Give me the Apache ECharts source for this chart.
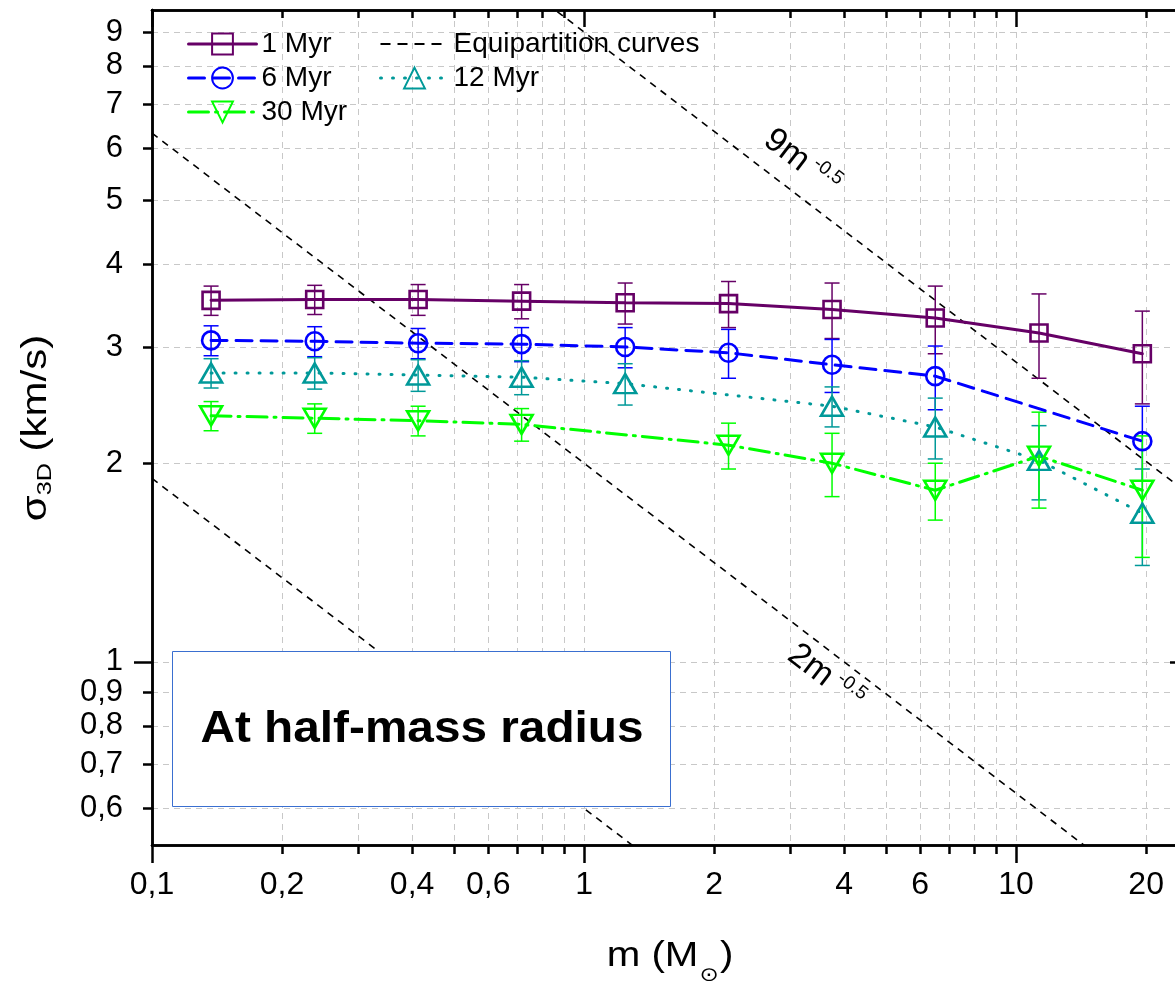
<!DOCTYPE html>
<html>
<head>
<meta charset="utf-8">
<script src="https://cdn.jsdelivr.net/npm/echarts@6/dist/echarts.min.js"></script>
<style>html,body{margin:0;padding:0;background:#fff;}#c{width:1175px;height:981px;}</style>
</head>
<body>
<div id="c"></div>
<script>
// ---- data ----
const masses = [0.137, 0.238, 0.413, 0.717, 1.245, 2.16, 3.75, 6.5, 11.3, 19.6];
const myr1  = [3.53, 3.54, 3.54, 3.52, 3.50, 3.49, 3.42, 3.32, 3.15, 2.93];
const err1  = [0.18, 0.18, 0.19, 0.21, 0.25, 0.28, 0.33, 0.39, 0.46, 0.47];
const myr6  = [3.07, 3.06, 3.04, 3.03, 3.00, 2.94, 2.82, 2.71, null, 2.16];
const err6  = [0.16, 0.16, 0.16, 0.18, 0.21, 0.25, 0.26, 0.30, null, 0.28];
const myr12 = [2.74, 2.74, 2.72, 2.70, 2.64, null, 2.44, 2.27, 2.02, 1.68];
const err12 = [0.14, 0.15, 0.15, 0.16, 0.19, null, 0.17, 0.24, 0.26, 0.28];
const myr30 = [2.36, 2.34, 2.32, 2.29, null, 2.13, 2.00, 1.82, 2.05, 1.82];
const err30 = [0.12, 0.12, 0.12, 0.13, null, 0.17, 0.22, 0.18, 0.34, 0.38];
// equipartition curves sigma = c * m^-0.5 (end points)
const equi9  = [[0.5, 12.73], [25, 1.80]];
const equi2  = [[0.1, 6.325], [25, 0.40]];
const equi06 = [[0.1, 1.897], [25, 0.12]];
// ticks
const xLabels = [0.1, 0.2, 0.4, 0.6, 1, 2, 4, 6, 10, 20];
const xMajor = [0.1, 1, 10];
const xMinor = [0.2, 0.3, 0.4, 0.5, 0.6, 0.7, 0.8, 0.9, 1, 2, 3, 4, 5, 6, 7, 8, 9, 10, 20];
const yLabels = [0.6, 0.7, 0.8, 0.9, 1, 2, 3, 4, 5, 6, 7, 8, 9];
const yMajor = [1];
const yMinor = [0.6, 0.7, 0.8, 0.9, 1, 2, 3, 4, 5, 6, 7, 8, 9];

const FONT = '"Liberation Sans", Arial, sans-serif';
const X_MIN = 0.1, X_MAX = 25, Y_MIN = 0.528, Y_MAX = 9.72;

function pts(vals) {
  const out = [];
  vals.forEach((v, i) => { if (v != null) out.push([masses[i], v]); });
  return out;
}
function errPts(vals, errs) {
  const out = [];
  vals.forEach((v, i) => { if (v != null) out.push([masses[i], v - errs[i], v + errs[i]]); });
  return out;
}
function fmt(v) { return String(+(+v).toPrecision(3)).replace('.', ','); }

function errSeries(name, vals, errs, color) {
  return {
    name: name, type: 'custom', xAxisIndex: 0, yAxisIndex: 0, z: 2,
    data: errPts(vals, errs),
    encode: { x: 0, y: [1, 2] },
    renderItem: function (params, api) {
      const x = api.value(0), lo = api.value(1), hi = api.value(2);
      const a = api.coord([x, lo]), b = api.coord([x, hi]);
      const hw = 7.5;
      const st = { stroke: color, lineWidth: 1.5 };
      return { type: 'group', children: [
        { type: 'line', shape: { x1: a[0], y1: a[1], x2: b[0], y2: b[1] }, style: st },
        { type: 'line', shape: { x1: a[0] - hw, y1: a[1], x2: a[0] + hw, y2: a[1] }, style: st },
        { type: 'line', shape: { x1: b[0] - hw, y1: b[1], x2: b[0] + hw, y2: b[1] }, style: st }
      ]};
    }
  };
}
function dataSeries(name, vals, color, lineType, symbol, size, rot) {
  return {
    name: name, type: 'line', xAxisIndex: 0, yAxisIndex: 0, z: 3,
    data: pts(vals), color: color,
    symbol: symbol, symbolSize: size, symbolRotate: rot || 0, showAllSymbol: true,
    lineStyle: { color: color, width: 3, type: lineType, cap: 'round' },
    itemStyle: { color: 'rgba(255,255,255,0)', borderColor: color, borderWidth: 2.6 },
    emphasis: { disabled: true }, animation: false
  };
}
function equiSeries(data) {
  return {
    name: 'Equipartition curves', type: 'line', xAxisIndex: 0, yAxisIndex: 0, z: 1,
    data: data, symbol: 'none', color: '#000',
    lineStyle: { color: '#000', width: 1.6, type: [7, 6] },
    emphasis: { disabled: true }, animation: false
  };
}

const axisLineStyle = { show: true, onZero: false, lineStyle: { color: '#000', width: 2.5 } };
const gridSplit = { show: true, lineStyle: { color: '#c8c8c8', width: 1, type: [6, 5] } };
function xAx(pos, ticks, len, inside, labels, split) {
  return {
    type: 'log', logBase: 10, min: X_MIN, max: X_MAX, position: pos, gridIndex: 0,
    axisLine: axisLineStyle,
    axisTick: { show: true, customValues: ticks, length: len, inside: inside, lineStyle: { color: '#000', width: 2.5 } },
    axisLabel: labels ? { show: true, customValues: labels, formatter: fmt, fontSize: 32, fontFamily: FONT, color: '#000', margin: 24 } : { show: false },
    splitLine: split ? gridSplit : { show: false },
    minorTick: { show: false }, minorSplitLine: { show: false }
  };
}
function yAx(pos, ticks, len, inside, labels, split) {
  return {
    type: 'log', logBase: 10, min: Y_MIN, max: Y_MAX, position: pos, gridIndex: 0,
    axisLine: axisLineStyle,
    axisTick: { show: true, customValues: ticks, length: len, inside: inside, lineStyle: { color: '#000', width: 2.5 } },
    axisLabel: labels ? { show: true, customValues: labels, formatter: fmt, fontSize: 31, fontFamily: FONT, color: '#000', margin: 29 } : { show: false },
    splitLine: split ? gridSplit : { show: false },
    minorTick: { show: false }, minorSplitLine: { show: false }
  };
}

const legText = { fontSize: 28, fontFamily: FONT, color: '#000' };
const legLine = { width: 3 };
const chart = echarts.init(document.getElementById('c'), null, { renderer: 'canvas' });
const option = {
  animation: false,
  backgroundColor: '#fff',
  grid: { left: 152, top: 10, right: -13, bottom: 136, containLabel: false, outerBoundsMode: 'none' },
  xAxis: [
    xAx('bottom', xMajor, 18, false, xLabels, false),
    xAx('bottom', xMinor, 9, false, null, true),
    xAx('top', xMinor, 8, true, null, false),
    xAx('top', xMajor, 17, true, null, false)
  ],
  yAxis: [
    yAx('left', yMajor, 18, false, yLabels, false),
    yAx('left', yMinor, 9, false, null, true),
    yAx('right', yMinor, 8, true, null, false),
    yAx('right', yMajor, 18, true, null, false)
  ],
  legend: [
    { data: [
        { name: '1 Myr', lineStyle: legLine },
        { name: '6 Myr', lineStyle: legLine },
        { name: '30 Myr', lineStyle: legLine }
      ], orient: 'vertical', left: 182, top: 25, itemWidth: 68, itemHeight: 26, itemGap: 6,
      textStyle: legText, selectedMode: false },
    { data: [
        { name: 'Equipartition curves', lineStyle: { width: 2, type: [10, 7] }, itemStyle: { opacity: 0 } },
        { name: '12 Myr', lineStyle: legLine }
      ], orient: 'vertical', left: 374, top: 25, itemWidth: 68, itemHeight: 26, itemGap: 6,
      textStyle: legText, selectedMode: false }
  ],
  series: [
    equiSeries(equi9), equiSeries(equi2), equiSeries(equi06),
    errSeries('e1', myr1, err1, '#660066'),
    errSeries('e6', myr6, err6, '#0000ff'),
    errSeries('e12', myr12, err12, '#009999'),
    errSeries('e30', myr30, err30, '#00ff00'),
    dataSeries('1 Myr', myr1, '#660066', 'solid', 'rect', 17),
    dataSeries('6 Myr', myr6, '#0000ff', [16, 9], 'circle', 18),
    dataSeries('12 Myr', myr12, '#009999', [1, 11], 'triangle', [22, 19]),
    dataSeries('30 Myr', myr30, '#00ff00', [20, 7, 2, 7], 'triangle', [22, 19], 180)
  ],
  graphic: [
    { type: 'rect', z: 100, shape: { x: 172.5, y: 651.5, width: 498, height: 155 },
      style: { fill: '#fff', stroke: '#3a6fd0', lineWidth: 1 } },
    { type: 'text', z: 101, x: 422, y: 730, scaleX: 1.085,
      style: { text: 'At half-mass radius', fontSize: 44, fontWeight: 'bold', fontFamily: FONT, fill: '#000', align: 'center', verticalAlign: 'middle' } },
    { type: 'text', z: 50, x: 802, y: 162, rotation: -0.65,
      style: { text: '{b|9m}{s|-0.5}', align: 'center', verticalAlign: 'middle',
        rich: { b: { fontSize: 34, fontFamily: FONT, fill: '#000', lineHeight: 36 },
                s: { fontSize: 19, fontFamily: FONT, fill: '#000', verticalAlign: 'top', padding: [0, 0, 0, 6] } } } },
    { type: 'text', z: 50, x: 826, y: 677, rotation: -0.65,
      style: { text: '{b|2m}{s|-0.5}', align: 'center', verticalAlign: 'middle',
        rich: { b: { fontSize: 34, fontFamily: FONT, fill: '#000', lineHeight: 36 },
                s: { fontSize: 19, fontFamily: FONT, fill: '#000', verticalAlign: 'top', padding: [0, 0, 0, 6] } } } },
    { type: 'text', z: 50, x: 670, y: 956, scaleX: 1.15,
      style: { text: '{a|m (M}{s|⊙}{a|)}', align: 'center', verticalAlign: 'middle',
        rich: { a: { fontSize: 35, fontFamily: FONT, fill: '#000', lineHeight: 40 },
                s: { fontSize: 20, fontFamily: '"DejaVu Sans", sans-serif', fill: '#000', verticalAlign: 'bottom', lineHeight: 60, padding: [0, 1, 0, 1] } } } },
    { type: 'text', z: 50, x: 36, y: 428, rotation: Math.PI / 2, scaleX: 1.2,
      style: { text: '{a|σ}{s|3D}{a| (km/s)}', align: 'center', verticalAlign: 'middle',
        rich: { a: { fontSize: 35, fontFamily: FONT, fill: '#000', lineHeight: 40 },
                s: { fontSize: 21, fontFamily: FONT, fill: '#000', verticalAlign: 'bottom', lineHeight: 20 } } } }
  ]
};
chart.setOption(option);
</script>
</body>
</html>
